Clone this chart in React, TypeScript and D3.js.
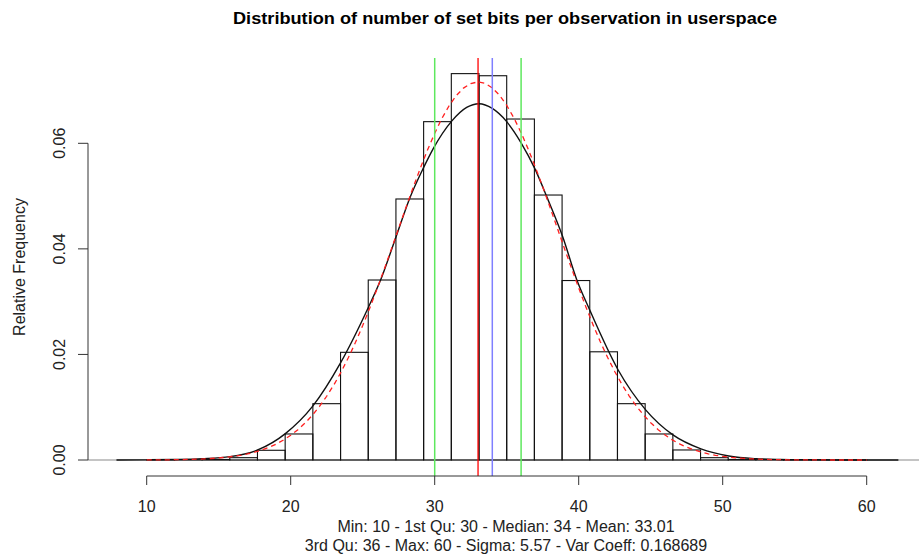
import React from "react";
import * as d3 from "d3";

// ---- data ----
const binStart = 10;
const binEnd = 60;
const binCount = 26;
// density of each bin (relative frequency / bin width)
const binDensity = [
  0.00002, 0.00003, 0.0001, 0.00044, 0.00184, 0.00493, 0.01067, 0.0204, 0.0341,
  0.04945, 0.0641, 0.0732, 0.0728, 0.0646, 0.0502, 0.034, 0.0205, 0.01067,
  0.00493, 0.0019, 0.00044, 0.0001, 0.00003, 0.00002, 0.00001, 0.00002,
];
// kernel density estimate (black curve)
const kdeX = [
  7.9, 10, 12, 13.85, 15.78, 17.71, 19.63, 21.53, 23.44, 25.39, 26.2, 27.33,
  28.28, 29.21, 29.9, 31.18, 32.22, 33.08, 34.0, 35.0, 36.0, 36.97, 37.78, 38.89,
  39.86, 40.8, 42.73, 44.65, 46.57, 48.49, 50.42, 52.31, 54, 56, 58, 62.2,
];
const kdeY = [
  0, 0.00003, 0.0001, 0.00025, 0.00063, 0.0019, 0.005, 0.0102, 0.0183, 0.0289,
  0.0338, 0.0424, 0.0497, 0.0553, 0.059, 0.0642, 0.0668, 0.0675, 0.0666, 0.0641,
  0.0601, 0.0551, 0.0499, 0.0423, 0.0342, 0.0282, 0.0171, 0.0095, 0.0047, 0.0021,
  0.00076, 0.00025, 0.0001, 0.00004, 0.00001, 0,
];
const statMin = 10;
const statQ1 = 30;
const statMedian = 34;
const statMean = 33.01;
const statQ3 = 36;
const statMax = 60;
const statSigma = 5.57;
const statVarCoeff = 0.168689;
const xTicks = [10, 20, 30, 40, 50, 60];
const yTicks = [0, 0.02, 0.04, 0.06];

const titleText = "Distribution of number of set bits per observation in userspace";
const yLabel = "Relative Frequency";
const subLine1 = `Min: ${statMin} - 1st Qu: ${statQ1} - Median: ${statMedian} - Mean: ${statMean}`;
const subLine2 = `3rd Qu: ${statQ3} - Max: ${statMax} - Sigma: ${statSigma} - Var Coeff: ${statVarCoeff}`;

export default function App() {
  const W = 919;
  const H = 558;
  const x = d3.scaleLinear().domain([10, 60]).range([146.7, 866.7]);
  const y = d3.scaleLinear().domain([0, 0.06]).range([460, 143.3]);
  const plotTop = 58;
  const plotBottom = 476;
  const font = "'Liberation Sans', Arial, Helvetica, sans-serif";

  const bw = (binEnd - binStart) / binCount;
  const bins = binDensity.map((d, i) => ({
    x0: binStart + i * bw,
    x1: binStart + (i + 1) * bw,
    d,
  }));

  const kdeLine = d3
    .line<number>()
    .x((_, i) => x(kdeX[i]))
    .y((v) => y(v))
    .curve(d3.curveMonotoneX);

  const normX = d3.range(0, 101).map((i) => statMin + ((statMax - statMin) * i) / 100);
  const dnorm = (v: number) =>
    Math.exp(-0.5 * ((v - statMean) / statSigma) ** 2) / (statSigma * Math.sqrt(2 * Math.PI));
  const normLine = d3
    .line<number>()
    .x((v) => x(v))
    .y((v) => y(dnorm(v)));

  const vlines = [
    { v: statQ1, c: "#5ee85e", w: 1.5 },
    { v: statQ3, c: "#5ee85e", w: 1.5 },
    { v: statMean, c: "#ff0000", w: 1.3 },
    { v: statMedian, c: "#7f7fff", w: 1.5 },
  ];

  return (
    <svg
      width={W}
      height={H}
      style={{ position: "absolute", left: 0, top: 0, background: "#fff" }}
      fontFamily={font}
    >
      <rect x={0} y={0} width={W} height={H} fill="#fff" />
      <text
        x={505}
        y={24}
        textAnchor="middle"
        fontWeight="bold"
        fontSize={17}
        textLength={544}
        lengthAdjust="spacingAndGlyphs"
      >
        {titleText}
      </text>

      {/* baseline */}
      <line x1={88} x2={W} y1={y(0)} y2={y(0)} stroke="#8a8a8a" strokeWidth={1.2} />

      {/* bars */}
      {bins.map((b, i) => (
        <rect
          key={i}
          x={x(b.x0)}
          y={y(b.d)}
          width={x(b.x1) - x(b.x0)}
          height={y(0) - y(b.d)}
          fill="none"
          stroke="#111"
          strokeWidth={1.1}
        />
      ))}

      {/* density */}
      <path d={kdeLine(kdeY) || ""} fill="none" stroke="#111" strokeWidth={1.4} />
      <path
        d={normLine(normX) || ""}
        fill="none"
        stroke="#ff2020"
        strokeWidth={1.3}
        strokeDasharray="5,4"
      />

      {vlines.map((l, i) => (
        <line
          key={i}
          x1={x(l.v)}
          x2={x(l.v)}
          y1={plotTop}
          y2={plotBottom}
          stroke={l.c}
          strokeWidth={l.w}
        />
      ))}

      {/* y axis */}
      <line x1={88} x2={88} y1={y(0.06)} y2={y(0)} stroke="#333" strokeWidth={1} />
      {yTicks.map((t) => (
        <g key={t}>
          <line x1={78} x2={88} y1={y(t)} y2={y(t)} stroke="#333" strokeWidth={1} />
          <text
            transform={`translate(65,${y(t)}) rotate(-90)`}
            textAnchor="middle"
            fontSize={16}
            fill="#222"
          >
            {t.toFixed(2)}
          </text>
        </g>
      ))}
      <text
        transform={`translate(25,267) rotate(-90)`}
        textAnchor="middle"
        fontSize={16}
        fill="#222"
      >
        {yLabel}
      </text>

      {/* x axis */}
      <line x1={x(10)} x2={x(60)} y1={476} y2={476} stroke="#333" strokeWidth={1} />
      {xTicks.map((t) => (
        <g key={t}>
          <line x1={x(t)} x2={x(t)} y1={476} y2={485} stroke="#333" strokeWidth={1} />
          <text x={x(t)} y={511.5} textAnchor="middle" fontSize={16} fill="#222">
            {t}
          </text>
        </g>
      ))}

      <text x={506} y={531.5} textAnchor="middle" fontSize={16} fill="#222">
        {subLine1}
      </text>
      <text x={506} y={551} textAnchor="middle" fontSize={16} fill="#222">
        {subLine2}
      </text>
    </svg>
  );
}
